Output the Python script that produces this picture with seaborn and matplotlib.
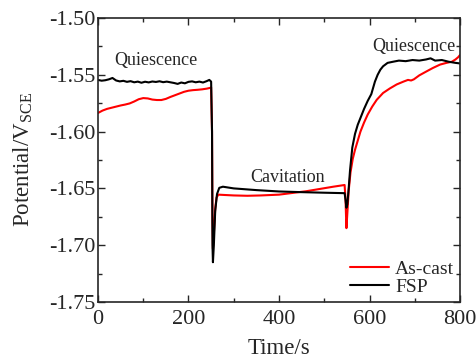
import numpy as np
import pandas as pd
import matplotlib
matplotlib.use("Agg")
import matplotlib.pyplot as plt
import seaborn as sns
from matplotlib.ticker import MultipleLocator

# ---- data ----
fsp_t = [0, 8, 16, 24, 32, 40, 48, 56, 64, 72, 80, 88, 96, 104, 112, 120, 128, 136, 144, 152,
         160, 168, 176, 184, 192, 200, 208, 216, 224, 232, 240, 246, 250,
         252, 253, 254, 256, 259, 263, 268, 276, 300, 350, 400, 450, 500, 545,
         547, 549, 551, 554, 557, 562, 568, 574, 580, 588, 596, 604, 612, 618, 624, 630, 640,
         652, 665, 680, 695, 710, 725, 735, 745, 760, 775, 790, 800]
fsp_v = [-1.5545, -1.5552, -1.5548, -1.5540, -1.5528, -1.5550, -1.5558, -1.5553, -1.5562, -1.5556,
         -1.5566, -1.5560, -1.5570, -1.5561, -1.5567, -1.5559, -1.5563, -1.5557, -1.5565, -1.5560,
         -1.5566, -1.5572, -1.5580, -1.5568, -1.5575, -1.5562, -1.5558, -1.5566, -1.5560, -1.5568,
         -1.5556, -1.5545, -1.5560,
         -1.600, -1.700, -1.715, -1.700, -1.670, -1.655, -1.6495, -1.6485, -1.6500, -1.6515,
         -1.6527, -1.6533, -1.6538, -1.6542,
         -1.660, -1.667, -1.664, -1.650, -1.634, -1.614, -1.602, -1.594, -1.588, -1.580, -1.573,
         -1.567, -1.556, -1.550, -1.5455, -1.5425, -1.5395,
         -1.5385, -1.5375, -1.5380, -1.5370, -1.5375, -1.5365, -1.5355, -1.5375, -1.5370,
         -1.5385, -1.5395, -1.5400]

cast_t = [0, 10, 20, 30, 40, 50, 60, 70, 80, 90, 100, 110, 120, 130, 140, 150, 160, 170, 180,
          190, 200, 210, 220, 230, 240, 248, 250,
          252, 253, 254, 256, 259, 262, 266, 280, 300, 330, 360, 400, 430, 460, 490, 520, 545,
          547, 549, 551, 554, 558, 563, 568, 574, 580, 588, 596, 606, 616, 630, 645, 660, 675,
          685, 692, 698, 710, 726, 740, 756, 770, 782, 790, 796, 800]
cast_v = [-1.5836, -1.5815, -1.5800, -1.5790, -1.5780, -1.5770, -1.5762, -1.5752, -1.5735,
          -1.5715, -1.5705, -1.5708, -1.5718, -1.5722, -1.5722, -1.5712, -1.5695, -1.5680,
          -1.5665, -1.5650, -1.5640, -1.5635, -1.5632, -1.5628, -1.5622, -1.5615, -1.5610,
          -1.600, -1.680, -1.703, -1.690, -1.668, -1.658, -1.6555, -1.6558, -1.6562, -1.6565,
          -1.6562, -1.6555, -1.6540, -1.6525, -1.6505, -1.6485, -1.6470,
          -1.660, -1.685, -1.672, -1.652, -1.636, -1.624, -1.616, -1.608, -1.600, -1.592,
          -1.585, -1.578, -1.572, -1.566, -1.562, -1.5585, -1.5560, -1.5545, -1.5550, -1.5540,
          -1.5505, -1.5470, -1.5440, -1.5410, -1.5395, -1.5385, -1.5365, -1.5345, -1.5326]

series_names = ["As-cast", "FSP"]
series_colors = ["#ff0000", "#000000"]
annotations = [("Quiescence", 128, -1.537), ("Cavitation", 420, -1.640), ("Quiescence", 698, -1.5247)]

df = pd.concat([
    pd.DataFrame({"Time": cast_t, "Potential": cast_v, "Sample": series_names[0]}),
    pd.DataFrame({"Time": fsp_t, "Potential": fsp_v, "Sample": series_names[1]}),
])

sns.set_style("ticks")
plt.rcParams["font.family"] = ["Liberation Serif", "DejaVu Serif"]
plt.rcParams["mathtext.fontset"] = "custom"
plt.rcParams["mathtext.rm"] = "Liberation Serif"

fig = plt.figure(figsize=(4.77, 3.62), dpi=100)
ax = fig.add_axes([98 / 477, 1 - 302 / 362, 362 / 477, 284 / 362])

sns.lineplot(data=df, x="Time", y="Potential", hue="Sample", palette=dict(zip(series_names, series_colors)),
             sort=False, estimator=None, linewidth=1.5, ax=ax)

ax.set_xlim(0, 800)
ax.set_ylim(-1.75, -1.50)
ax.xaxis.set_major_locator(MultipleLocator(200))
ax.xaxis.set_minor_locator(MultipleLocator(100))
ax.yaxis.set_major_locator(MultipleLocator(0.05))
ax.yaxis.set_minor_locator(MultipleLocator(0.025))
ax.set_yticks(ax.get_yticks())
ax.set_yticklabels([f"{v:.2f}" for v in ax.get_yticks()])
ax.set_ylim(-1.75, -1.50)
ax.tick_params(which="both", direction="in", top=True, right=True, labelsize=16, width=1)
ax.tick_params(axis="y", pad=2)
ax.tick_params(axis="x", pad=6)
ax.tick_params(which="major", length=5)
ax.tick_params(which="minor", length=3)
for s in ax.spines.values():
    s.set_linewidth(1.2)
ax.set_xlabel("Time/s", fontsize=16.5, labelpad=6)
ax.set_ylabel("Potential/V$_{\\mathrm{SCE}}$", fontsize=16.5, labelpad=10)

for txt, x, y in annotations:
    ax.text(x, y, txt, fontsize=13, ha="center", va="center")

leg = ax.legend(loc="lower right", frameon=False, fontsize=14, handlelength=2.0,
                borderaxespad=0.0, borderpad=0.3, labelspacing=0.05, handletextpad=0.3)

fig.savefig("out.png", dpi=100)
